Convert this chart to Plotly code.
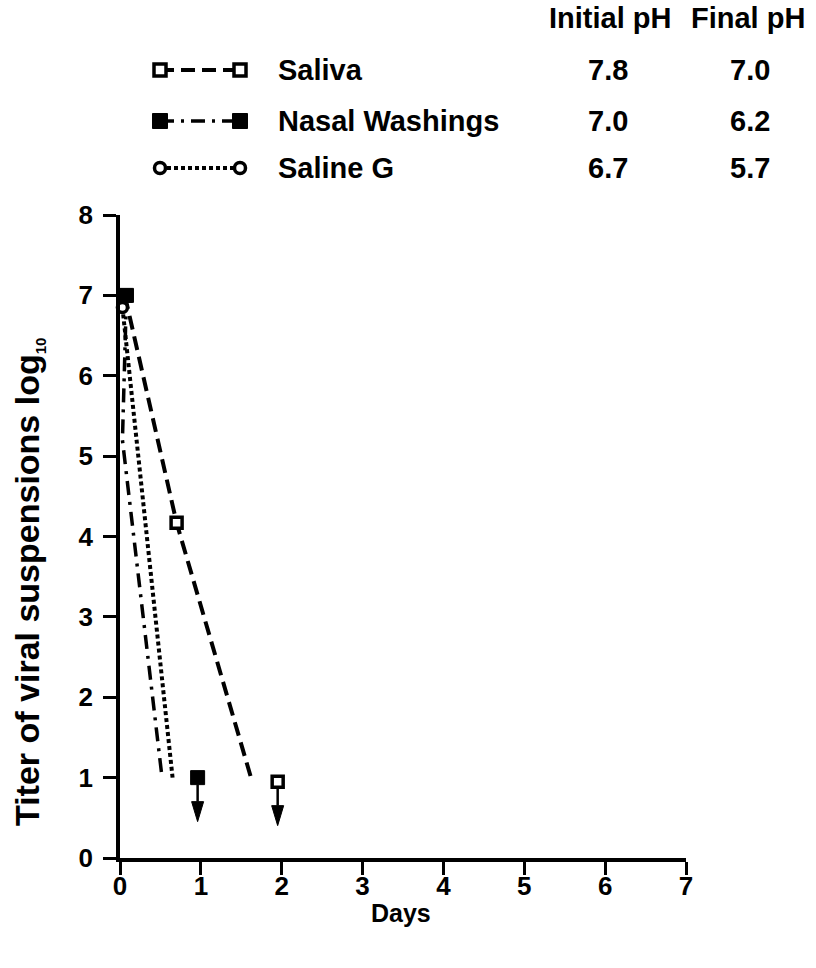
import plotly.graph_objects as go

# ---------------- data ----------------
day_ticks = [0, 1, 2, 3, 4, 5, 6, 7]
titer_ticks = [0, 1, 2, 3, 4, 5, 6, 7, 8]

series_names = ["Saliva", "Nasal Washings", "Saline G"]
initial_ph = ["7.8", "7.0", "6.7"]
final_ph = ["7.0", "6.2", "5.7"]

# decline lines (log10 titer vs days)
saliva_line_days = [0.06, 0.70, 1.62]
saliva_line_titer = [7.0, 4.17, 1.0]
nasal_line_days = [0.08, 0.03, 0.52]
nasal_line_titer = [7.0, 5.2, 1.0]
saline_line_days = [0.03, 0.65]
saline_line_titer = [6.85, 1.0]

# measured points
saliva_pt_days = [0.06, 0.70, 1.95]
saliva_pt_titer = [7.0, 4.17, 0.95]
nasal_pt_days = [0.08, 0.96]
nasal_pt_titer = [7.0, 1.0]
saline_pt_days = [0.03]
saline_pt_titer = [6.85]

# points at the detection limit (true value lower, shown with a down arrow)
limit_days = [0.96, 1.95]
limit_titer = [1.0, 0.95]

# ---------------- figure geometry ----------------
W, H = 816, 968
X0, X1 = 120, 686      # pixel x of day 0 and day 7
Y0, Y1 = 858, 215      # pixel y of titer 0 and titer 8
FONT = "Liberation Sans, Arial, Helvetica, sans-serif"
BLACK = "#000000"

px_per_day = (X1 - X0) / 7.0
px_per_unit = (Y0 - Y1) / 8.0

styles = {
    "Saliva": dict(dash="14px,7px", width=4),
    "Nasal Washings": dict(dash="14px,7px,3px,7px", width=3.5),
    "Saline G": dict(dash="4px,3px", width=4),
}
open_square = dict(symbol="square", size=11, color="white", line=dict(color=BLACK, width=3.5))
filled_square = dict(symbol="square", size=14, color=BLACK, line=dict(color=BLACK, width=1))
open_circle = dict(symbol="circle", size=10, color="white", line=dict(color=BLACK, width=3.5))
markers = {"Saliva": open_square, "Nasal Washings": filled_square, "Saline G": open_circle}

fig = go.Figure()

# lines
for name, xs, ys in [
    ("Saline G", saline_line_days, saline_line_titer),
    ("Nasal Washings", nasal_line_days, nasal_line_titer),
    ("Saliva", saliva_line_days, saliva_line_titer),
]:
    fig.add_trace(go.Scatter(
        x=xs, y=ys, mode="lines", line=dict(color=BLACK, **styles[name]),
        showlegend=False, cliponaxis=False, hoverinfo="skip"))

# markers
for name, xs, ys in [
    ("Saline G", saline_pt_days, saline_pt_titer),
    ("Saliva", saliva_pt_days, saliva_pt_titer),
    ("Nasal Washings", nasal_pt_days, nasal_pt_titer),
]:
    fig.add_trace(go.Scatter(
        x=xs, y=ys, mode="markers", marker=markers[name],
        showlegend=False, cliponaxis=False, name=name))

# down arrows under detection-limit points
ARROW_LEN_PX = 44
HEAD_LEN_PX = 20
HEAD_HALF_W_PX = 6
MARKER_HALF_PX = 7
shapes = []
for xd, yt in zip(limit_days, limit_titer):
    y_start = yt - MARKER_HALF_PX / px_per_unit
    y_tip = yt - ARROW_LEN_PX / px_per_unit
    y_base = y_tip + HEAD_LEN_PX / px_per_unit
    hw = HEAD_HALF_W_PX / px_per_day
    shapes.append(dict(type="line", xref="x", yref="y", x0=xd, x1=xd, y0=y_start, y1=y_base,
                       line=dict(color=BLACK, width=2.5)))
    shapes.append(dict(type="path", xref="x", yref="y",
                       path=f"M {xd - hw},{y_base} L {xd + hw},{y_base} L {xd},{y_tip} Z",
                       fillcolor=BLACK, line=dict(color=BLACK, width=1)))

# ---------------- legend table (pixel axes) ----------------
LEG_Y = [70, 121, 168]
LEG_X = [160, 240]
leg_markers = {
    "Saliva": dict(open_square, size=12),
    "Nasal Washings": dict(filled_square, size=15),
    "Saline G": dict(open_circle, size=11),
}
for name, ly in zip(series_names, LEG_Y):
    fig.add_trace(go.Scatter(
        x=LEG_X, y=[ly, ly], mode="lines+markers", xaxis="x2", yaxis="y2",
        line=dict(color=BLACK, **styles[name]), marker=leg_markers[name],
        showlegend=False, cliponaxis=False, hoverinfo="skip"))

annotations = []
TXT = dict(family=FONT, size=29, color=BLACK, weight="bold")
for name, ip, fp, ly in zip(series_names, initial_ph, final_ph, LEG_Y):
    annotations.append(dict(x=276, y=ly, xref="x2", yref="y2", text=name, showarrow=False,
                            xanchor="left", yanchor="middle", font=TXT))
    annotations.append(dict(x=608, y=ly, xref="x2", yref="y2", text=ip, showarrow=False,
                            xanchor="center", yanchor="middle", font=TXT))
    annotations.append(dict(x=750, y=ly, xref="x2", yref="y2", text=fp, showarrow=False,
                            xanchor="center", yanchor="middle", font=TXT))
for label, cx in [("Initial pH", 610), ("Final pH", 748)]:
    annotations.append(dict(x=cx, y=18, xref="x2", yref="y2", text=label, showarrow=False,
                            xanchor="center", yanchor="middle", font=TXT))

# axis titles
annotations.append(dict(x=401, y=913, xref="x2", yref="y2", text="Days", showarrow=False,
                        xanchor="center", yanchor="middle",
                        font=dict(family=FONT, size=25, color=BLACK, weight="bold")))
annotations.append(dict(x=28, y=582, xref="x2", yref="y2",
                        text="Titer of viral suspensions log<sub><span style='font-size:15px'>10</span></sub>",
                        showarrow=False, textangle=-90, xanchor="center", yanchor="middle",
                        font=dict(family=FONT, size=34, color=BLACK, weight="bold")))

tick_font = dict(family=FONT, size=26, color=BLACK, weight="bold")
fig.update_layout(
    width=W, height=H, autosize=False,
    margin=dict(l=0, r=0, t=0, b=0),
    paper_bgcolor="white", plot_bgcolor="rgba(0,0,0,0)",
    showlegend=False,
    xaxis=dict(domain=[X0 / W, X1 / W], range=[0, 7], tickvals=day_ticks,
               showline=True, linecolor=BLACK, linewidth=3.5, mirror=False,
               ticks="outside", ticklen=13, tickwidth=3, tickcolor=BLACK,
               showgrid=False, zeroline=False, tickfont=tick_font,
               ticklabelstandoff=-11, automargin=False, fixedrange=True),
    yaxis=dict(domain=[(H - Y0) / H, (H - Y1) / H], range=[0, 8], tickvals=titer_ticks,
               showline=True, linecolor=BLACK, linewidth=3.5,
               ticks="outside", ticklen=13, tickwidth=3, tickcolor=BLACK,
               showgrid=False, zeroline=False, tickfont=tick_font,
               ticklabelstandoff=5, automargin=False, fixedrange=True),
    xaxis2=dict(domain=[0, 1], range=[0, W], visible=False, anchor="y2", fixedrange=True),
    yaxis2=dict(domain=[0, 1], range=[H, 0], visible=False, anchor="x2", fixedrange=True),
    shapes=shapes,
    annotations=annotations,
)

fig.write_html("out.html")
